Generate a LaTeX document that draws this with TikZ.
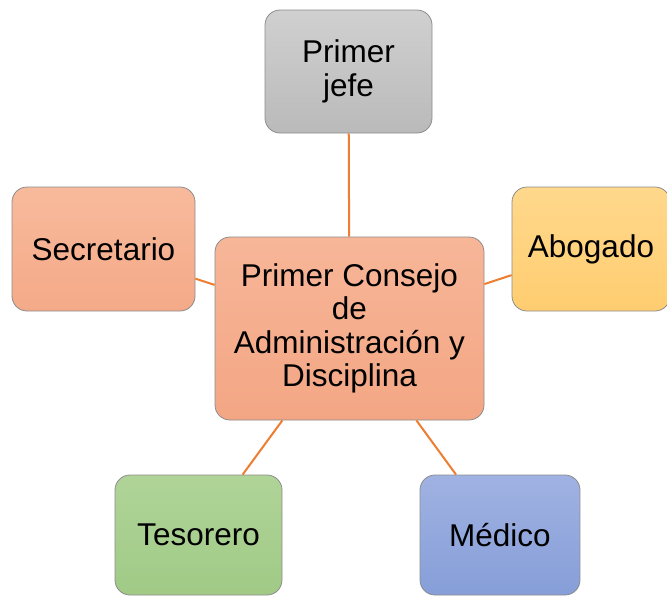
\documentclass[tikz,border=0pt]{standalone}
\usepackage{fontspec}
\setmainfont{Liberation Sans}
\begin{document}
\begin{tikzpicture}[x=1pt,y=-1pt,
  box/.style={rectangle, rounded corners=15pt, draw=black!45, line width=0.8pt,
    align=center, inner sep=2pt, font=\fontsize{31.5}{33.5}\selectfont, text=black},
  link/.style={draw={rgb,255:red,237;green,125;blue,49}, line width=2pt}]
\useasboundingbox (0,0) rectangle (667,595);
\node[box, minimum width=167pt, minimum height=123pt,
  top color={rgb,255:red,208;green,208;blue,208}, bottom color={rgb,255:red,186;green,186;blue,186}]
  (jefe) at (348.5,71.5) {Primer\\jefe};
\node[box, minimum width=183pt, minimum height=124pt,
  top color={rgb,255:red,248;green,186;blue,156}, bottom color={rgb,255:red,244;green,170;blue,136}]
  (sec) at (103.5,249) {Secretario};
\node[box, minimum width=158pt, minimum height=124pt,
  top color={rgb,255:red,255;green,216;blue,140}, bottom color={rgb,255:red,255;green,205;blue,112}]
  (abo) at (591,249) {Abogado};
\node[box, minimum width=269pt, minimum height=183pt,
  top color={rgb,255:red,247;green,182;blue,152}, bottom color={rgb,255:red,243;green,166;blue,132}]
  (cen) at (349.5,328.5) {Primer Consejo\\de\\Administración y\\Disciplina};
\node[box, minimum width=167pt, minimum height=120pt,
  top color={rgb,255:red,176;green,212;blue,152}, bottom color={rgb,255:red,160;green,202;blue,134}]
  (tes) at (198.5,535) {Tesorero};
\node[box, minimum width=160pt, minimum height=120pt,
  top color={rgb,255:red,160;green,178;blue,226}, bottom color={rgb,255:red,134;green,158;blue,216}]
  (med) at (500,535) {Médico};
\draw[link] (cen) -- (jefe);
\draw[link] (cen) -- (sec);
\draw[link] (cen) -- (abo);
\draw[link] (cen) -- (tes);
\draw[link] (cen) -- (med);
\end{tikzpicture}
\end{document}
